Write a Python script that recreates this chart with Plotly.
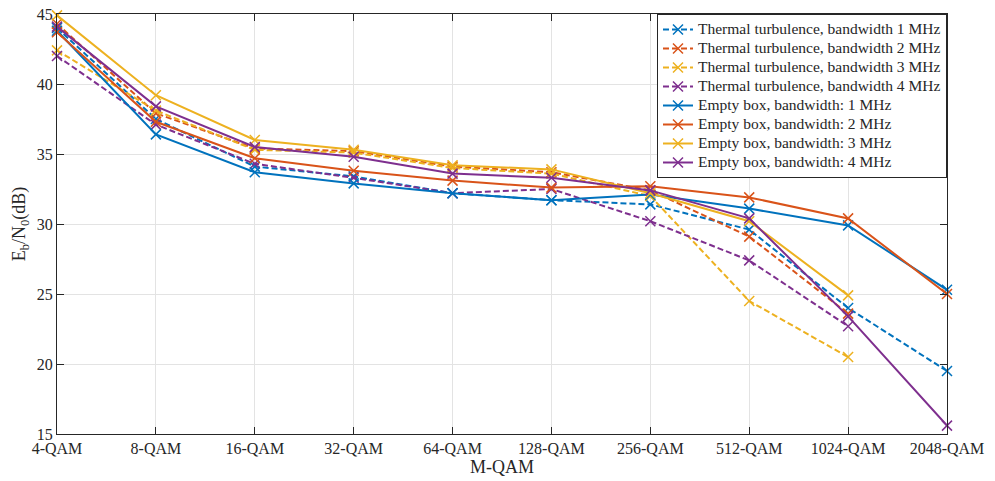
import plotly.graph_objects as go

categories = ["4-QAM", "8-QAM", "16-QAM", "32-QAM", "64-QAM", "128-QAM",
              "256-QAM", "512-QAM", "1024-QAM", "2048-QAM"]

thermal_1 = [44.0, 37.5, 34.1, 33.4, 32.2, 31.7, 31.4, 29.6, 24.0, 19.5]
thermal_2 = [44.3, 37.9, 35.4, 35.2, 34.1, 33.7, 32.4, 29.1, 23.6]
thermal_3 = [42.4, 38.1, 35.3, 35.1, 34.0, 33.6, 32.0, 24.5, 20.5]
thermal_4 = [42.0, 37.1, 34.3, 33.3, 32.2, 32.5, 30.2, 27.4, 22.7]

empty_1 = [43.8, 36.4, 33.7, 32.9, 32.2, 31.7, 32.1, 31.1, 29.9, 25.3]
empty_2 = [43.7, 37.3, 34.7, 33.8, 33.1, 32.6, 32.7, 31.9, 30.4, 25.0]
empty_3 = [44.9, 39.2, 36.0, 35.3, 34.2, 33.9, 32.2, 30.2, 24.9]
empty_4 = [44.1, 38.4, 35.5, 34.8, 33.6, 33.3, 32.4, 30.4, 23.4, 15.6]

thermal_names = ["Thermal turbulence, bandwidth 1 MHz", "Thermal turbulence, bandwidth 2 MHz",
                 "Thermal turbulence, bandwidth 3 MHz", "Thermal turbulence, bandwidth 4 MHz"]
empty_names = ["Empty box, bandwidth: 1 MHz", "Empty box, bandwidth: 2 MHz",
               "Empty box, bandwidth: 3 MHz", "Empty box, bandwidth: 4 MHz"]

colors = ["#0072BD", "#D95319", "#EDB120", "#7E2F8E"]

fig = go.Figure()

thermal = [thermal_1, thermal_2, thermal_3, thermal_4]
empty = [empty_1, empty_2, empty_3, empty_4]


def legend_text(s):
    return f'<span style="font-size:15.5px">{s}</span>'


for i, ys in enumerate(thermal):
    fig.add_trace(go.Scatter(
        x=list(range(len(ys))), y=ys, mode="lines+markers",
        name=legend_text(thermal_names[i]),
        line=dict(color=colors[i], width=2, dash="6px,3px"),
        marker=dict(symbol="x-thin", size=10, line=dict(color=colors[i], width=1.5)),
        cliponaxis=False))

for i, ys in enumerate(empty):
    fig.add_trace(go.Scatter(
        x=list(range(len(ys))), y=ys, mode="lines+markers",
        name=legend_text(empty_names[i]),
        line=dict(color=colors[i], width=2),
        marker=dict(symbol="x-thin", size=10, line=dict(color=colors[i], width=1.5)),
        cliponaxis=False))

font_family = "Liberation Serif"

fig.update_layout(
    width=995, height=481,
    margin=dict(l=57, r=48, t=14, b=47),
    paper_bgcolor="white", plot_bgcolor="white",
    font=dict(family=font_family, size=16, color="#262626"),
    showlegend=True,
    legend=dict(x=1, y=1, xanchor="right", yanchor="top",
                bgcolor="white", bordercolor="#262626", borderwidth=1,
                font=dict(family=font_family, size=12, color="#262626"),
                tracegroupgap=0, itemwidth=30),
    xaxis=dict(
        range=[0, 9], tickmode="array", tickvals=list(range(len(categories))),
        ticktext=categories, showgrid=True, gridcolor="#e3e3e3", gridwidth=1,
        zeroline=False, showline=True, linecolor="#262626", linewidth=1,
        mirror="ticks", ticks="inside", ticklen=7, tickcolor="#262626",
        automargin=False,
        title=dict(text="M-QAM", standoff=2, font=dict(family=font_family, size=18)),
        tickfont=dict(family=font_family, size=16)),
    yaxis=dict(
        range=[15, 45], dtick=5, showgrid=True, gridcolor="#e3e3e3", gridwidth=1,
        zeroline=False, showline=True, linecolor="#262626", linewidth=1,
        mirror="ticks", ticks="inside", ticklen=7, tickcolor="#262626",
        automargin=False,
        title=dict(text="E<sub>b</sub>/N<sub>0</sub>(dB)", standoff=6,
                   font=dict(family=font_family, size=18)),
        tickfont=dict(family=font_family, size=16)),
)

fig.write_html("out.html")
